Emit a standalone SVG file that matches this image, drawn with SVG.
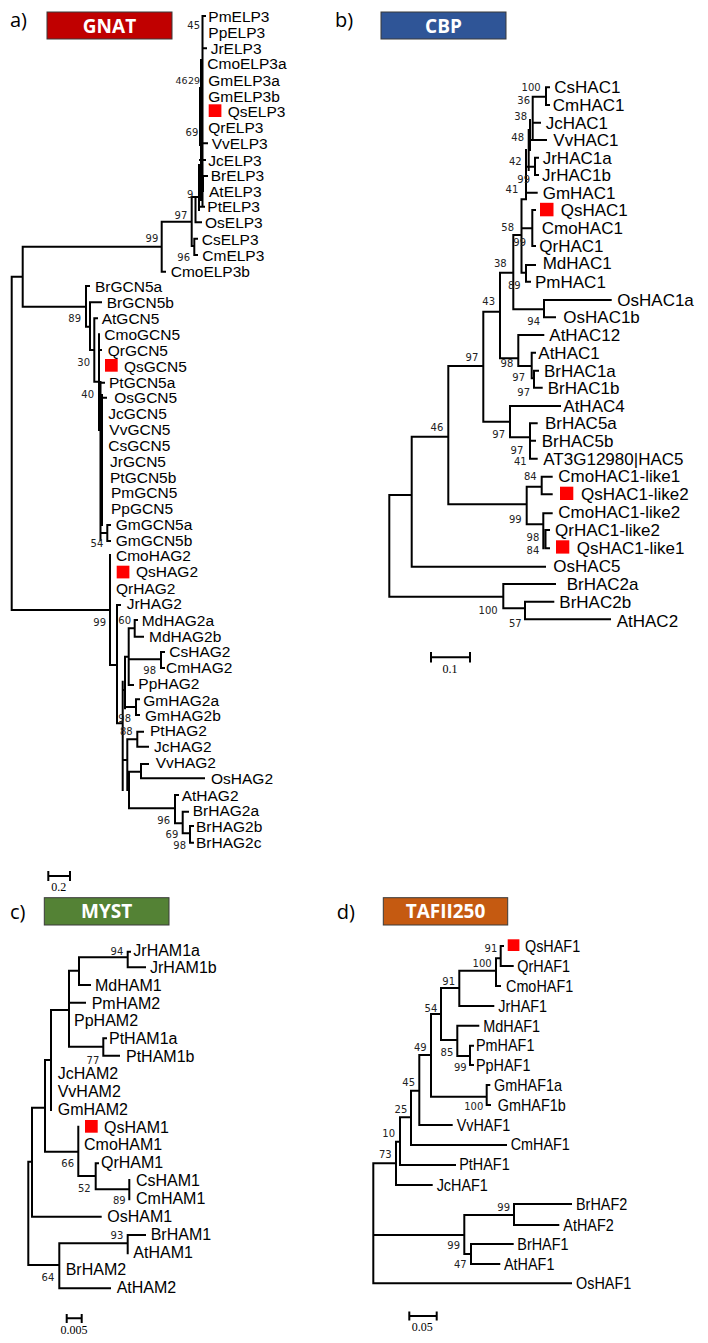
<svg xmlns="http://www.w3.org/2000/svg" width="708" height="1343" viewBox="0 0 708 1343">
<style>
.br{stroke:#000;stroke-width:2;fill:none;stroke-linecap:square}
.sb{stroke:#000;stroke-width:2;fill:none}
.la{font-family:"Liberation Sans",Arial,sans-serif;font-size:15.5px;fill:#000}
.lb{font-family:"Liberation Sans",Arial,sans-serif;font-size:17px;fill:#000}
.lc{font-family:"Liberation Sans",Arial,sans-serif;font-size:16px;fill:#000}
.bs{font-family:"DejaVu Sans",sans-serif;font-size:10px;fill:#222;text-anchor:end}
.sc{font-family:"Liberation Serif","Times New Roman",serif;font-size:12px;fill:#000;text-anchor:middle}
.pl{font-family:"Open Sans",sans-serif;font-size:20px;fill:#000}
.hd{font-family:"Open Sans",sans-serif;font-weight:bold;font-size:19px;fill:#fff;text-anchor:middle}
.hb{stroke:#3a3a3a;stroke-width:1}
.qs{fill:#ff0000}
</style>

<!-- Panel a -->
<g id="panel-a-header">
<text class="pl" x="10" y="27">a)</text>
<rect class="hb" x="47" y="12" width="125" height="27" fill="#C00000"/>
<text class="hd" x="109.5" y="32.5">GNAT</text>
</g>
<g id="panel-a-connectors">
<path class="br" d="M202.5,16V206 M202.5,16H205 M202.5,48.3H206 M200,88V145 M201,60V200 M200,143.3H207 M200,160H205 M199,165V210 M199,206.7H204 M203,176V191 M199,183H203 M203,176H207 M195.5,197V222.3 M195.5,222.3H201 M191.7,197V246 M191.7,197H199 M191.7,246H194.3 M194.3,238.7V255 M194.3,238.7H197 M194.3,255H197 M161.7,221.7V271.7 M161.7,221.7H191.7 M161.7,271.7H165 M22.7,246.7H161.7 M22.7,246.7V306.7 M22.7,306.7H86 M11.7,276.7V610 M11.7,276.7H22.7 M11.7,610H110"/>
<path class="br" d="M86,286V326.7 M86,286H89 M86,326.7H90 M90,302.3V350 M90,302.3H101 M90,350H94.3 M94.3,318.3V381.7 M94.3,318.3H97 M94.3,381.7H99 M99,334.3V430 M99,350H101 M100.5,382V540 M102,395V525 M100.5,382.7H104 M102,397.7H106 M102,533H107.3 M107.3,525V541 M107.3,525H110 M107.3,541H110"/>
<path class="br" d="M110,555V665 M110,665H117 M117,605V723.3 M117,605H120 M117,723.3H122.7 M122.7,681.7V790 M125,656.7V708.3 M122.7,690H125 M128.7,628.3V685 M125,656.7H128.7 M128.7,685H133 M128.7,628.3H134.7 M134.7,620V636.7 M134.7,620H137 M134.7,636.7H143 M128.7,659.3H161 M161,652V668 M161,652H164 M161,668H164 M125,707H136 M136,699.3V715 M136,699.3H139 M136,715H139 M127.3,739.3V790 M122.7,760H127.3 M127.3,739.3H137.3 M137.3,731.7V746.7 M137.3,731.7H143 M137.3,746.7H148 M129,771.7V808.3 M127.3,790H129 M129,771.7H141 M141,764V778.3 M141,764H148 M141,778.3H204 M129,808.3H175 M175,795V823.3 M175,795H178 M175,823.3H182.7 M182.7,811.7V833.3 M182.7,811.7H188 M182.7,833.3H190 M190,826V842.7 M190,826H193 M190,842.7H193"/>
<path class="sb" d="M48.3,876H70 M48.3,871V881 M70,871V881"/>
</g>
<g id="panel-a-bootstrap">
<text class="bs" x="200" y="28.8">45</text>
<text class="bs" x="187.6" y="83.8" style="font-size:9.5px">46</text>
<text class="bs" x="200" y="83.8" style="font-size:9.5px">29</text>
<text class="bs" x="198.3" y="135.5">69</text>
<text class="bs" x="193.3" y="198">9</text>
<text class="bs" x="187.3" y="218.8">97</text>
<text class="bs" x="158.3" y="242">99</text>
<text class="bs" x="190" y="260.5">96</text>
<text class="bs" x="81" y="322">89</text>
<text class="bs" x="90" y="365.5">30</text>
<text class="bs" x="94" y="397.8">40</text>
<text class="bs" x="103.3" y="547">54</text>
<text class="bs" x="106" y="625.5">99</text>
<text class="bs" x="131" y="623.8">60</text>
<text class="bs" x="156" y="673.8">98</text>
<text class="bs" x="131" y="722">98</text>
<text class="bs" x="132.7" y="734.5">88</text>
<text class="bs" x="170" y="823.8">96</text>
<text class="bs" x="178.3" y="837.8">69</text>
<text class="bs" x="186" y="848.8">98</text>
<text class="sc" x="58.7" y="891">0.2</text>
</g>
<g id="panel-a-leaves">
<text class="la" x="208.3" y="21.5">PmELP3</text>
<text class="la" x="208.3" y="37.8">PpELP3</text>
<text class="la" x="210.7" y="53.8">JrELP3</text>
<text class="la" x="207.3" y="68.8">CmoELP3a</text>
<text class="la" x="208.3" y="85.5">GmELP3a</text>
<text class="la" x="208.3" y="101.5">GmELP3b</text>
<rect class="qs" x="208.7" y="104.3" width="12.7" height="12.7"/>
<text class="la" x="227.7" y="117.2">QsELP3</text>
<text class="la" x="208.3" y="133.2">QrELP3</text>
<text class="la" x="211.7" y="148.8">VvELP3</text>
<text class="la" x="208.3" y="165.5">JcELP3</text>
<text class="la" x="210.7" y="180.5">BrELP3</text>
<text class="la" x="209" y="196.5">AtELP3</text>
<text class="la" x="207.3" y="212.2">PtELP3</text>
<text class="la" x="205" y="227.8">OsELP3</text>
<text class="la" x="201.7" y="244.5">CsELP3</text>
<text class="la" x="202.3" y="260.5">CmELP3</text>
<text class="la" x="170.7" y="277.2">CmoELP3b</text>
<text class="la" x="95" y="291.5">BrGCN5a</text>
<text class="la" x="106.7" y="307.8">BrGCN5b</text>
<text class="la" x="101.7" y="323.8">AtGCN5</text>
<text class="la" x="104.3" y="339.8">CmoGCN5</text>
<text class="la" x="107.7" y="355.5">QrGCN5</text>
<rect class="qs" x="105" y="359" width="12.7" height="12.7"/>
<text class="la" x="124" y="371.5">QsGCN5</text>
<text class="la" x="109" y="388.2">PtGCN5a</text>
<text class="la" x="114.3" y="403.2">OsGCN5</text>
<text class="la" x="108.3" y="418.8">JcGCN5</text>
<text class="la" x="109.3" y="434.8">VvGCN5</text>
<text class="la" x="108.3" y="450.5">CsGCN5</text>
<text class="la" x="110" y="466.5">JrGCN5</text>
<text class="la" x="110" y="483.2">PtGCN5b</text>
<text class="la" x="111" y="498.2">PmGCN5</text>
<text class="la" x="111" y="513.8">PpGCN5</text>
<text class="la" x="115.7" y="530">GmGCN5a</text>
<text class="la" x="115.7" y="545.5">GmGCN5b</text>
<text class="la" x="116" y="561">CmoHAG2</text>
<rect class="qs" x="116.7" y="565.7" width="12.7" height="12.7"/>
<text class="la" x="136" y="577.2">QsHAG2</text>
<text class="la" x="116" y="593.8">QrHAG2</text>
<text class="la" x="126.7" y="608.8">JrHAG2</text>
<text class="la" x="141.7" y="625.5">MdHAG2a</text>
<text class="la" x="149" y="641.5">MdHAG2b</text>
<text class="la" x="169.3" y="657.2">CsHAG2</text>
<text class="la" x="166" y="672.8">CmHAG2</text>
<text class="la" x="138.3" y="688.8">PpHAG2</text>
<text class="la" x="143.3" y="705.5">GmHAG2a</text>
<text class="la" x="145" y="720.5">GmHAG2b</text>
<text class="la" x="150" y="736.2">PtHAG2</text>
<text class="la" x="154" y="752.2">JcHAG2</text>
<text class="la" x="155.7" y="768.2">VvHAG2</text>
<text class="la" x="211" y="783.8">OsHAG2</text>
<text class="la" x="181.7" y="800.5">AtHAG2</text>
<text class="la" x="192.7" y="816.2">BrHAG2a</text>
<text class="la" x="196" y="831.5">BrHAG2b</text>
<text class="la" x="196" y="848.2">BrHAG2c</text>
</g>

<!-- Panel b -->
<g id="panel-b-header">
<text class="pl" x="335" y="27">b)</text>
<rect class="hb" x="381" y="12" width="125" height="27" fill="#2F5597"/>
<text class="hd" x="443.5" y="32.5">CBP</text>
</g>
<g id="panel-b-connectors">
<path class="br" d="M546,87.3V105 M546,87.3H549 M546,105H549 M532.7,96.7H546 M532.7,96.7V140 M532.7,122.7H540 M531.7,140H546 M530,120V150 M528.7,130V170 M535,157.7V175 M535,157.7H538 M535,175H538 M526.7,166.7H535 M526,150V199.3 M526,192.7H536.7 M521.5,199.3V272.7 M521.5,199.3H526 M521.5,228.3H532.3 M532.3,210V246 M532.3,210H535 M532.3,246H535 M521.5,272.7H526 M526,265V281.7 M526,265H535 M526,281.7H530 M513.3,235H521.5 M513.3,235V309.3 M513.3,309.3H544 M544,300V317.3 M544,300H610.7 M544,317.3H555 M500,272.7H513.3 M500,272.7V358.3 M500,358.3H518.3 M518.3,335V366 M518.3,335H543.3 M518.3,366H531.7 M531.7,352.7V378.3 M531.7,352.7H535 M531.7,378.3H534 M534,370.7V387.7 M534,370.7H538 M534,387.7H541.7 M483.3,311.7H500 M483.3,311.7V421.7 M483.3,421.7H510 M510,406V437.3 M510,406H560 M510,437.3H530 M530,423.3V458.7 M530,423.3H536.7 M530,440.7H535 M530,458.7H536.7 M448.3,366H483.3 M448.3,366V504.3 M448.3,504.3H526.7 M526.7,486.7V524.3 M526.7,486.7H541.7 M541.7,476.7V494.3 M541.7,476.7H551.7 M541.7,494.3H551.7 M526.7,524.3H543.3 M543.3,513.3V548.3 M543.3,513.3H551.7 M545.5,530V548.3 M545.5,530H549 M545.5,548.3H549 M411.7,436.7H448.3 M411.7,436.7V566.7 M411.7,566.7H545 M389.3,495V596.7 M389.3,495H411.7 M389.3,596.7H503.3 M503.3,584V608.3 M503.3,584H555 M503.3,608.3H525 M525,601.7V619.3 M525,601.7H553.3 M525,619.3H610"/>
<path class="sb" d="M431,657.3H470 M431,652V662.5 M470,652V662.5"/>
</g>
<g id="panel-b-bootstrap">
<text class="bs" x="540.7" y="90.5">100</text>
<text class="bs" x="530" y="103.8">36</text>
<text class="bs" x="527" y="119.8">38</text>
<text class="bs" x="524" y="140.5">48</text>
<text class="bs" x="521.7" y="164.8">42</text>
<text class="bs" x="530" y="182.8">99</text>
<text class="bs" x="518.3" y="193">41</text>
<text class="bs" x="514" y="230.5">58</text>
<text class="bs" x="526" y="246">99</text>
<text class="bs" x="506.7" y="266.5">38</text>
<text class="bs" x="520.7" y="288.8">89</text>
<text class="bs" x="495" y="304.8">43</text>
<text class="bs" x="540" y="324.5">94</text>
<text class="bs" x="478.3" y="361">97</text>
<text class="bs" x="513.3" y="366.5">98</text>
<text class="bs" x="525" y="380.5">97</text>
<text class="bs" x="530" y="396">97</text>
<text class="bs" x="443.3" y="430.5">46</text>
<text class="bs" x="505" y="437.8">97</text>
<text class="bs" x="523.3" y="453.8">97</text>
<text class="bs" x="526.7" y="464.8">41</text>
<text class="bs" x="536.7" y="479.8">84</text>
<text class="bs" x="521.7" y="523">99</text>
<text class="bs" x="539.3" y="541">98</text>
<text class="bs" x="539.3" y="553.8">84</text>
<text class="bs" x="497.7" y="613.8">100</text>
<text class="bs" x="521.7" y="627">57</text>
<text class="sc" x="450" y="672.5">0.1</text>
</g>
<g id="panel-b-leaves">
<text class="lb" x="554.3" y="93.3">CsHAC1</text>
<text class="lb" x="552.7" y="111">CmHAC1</text>
<text class="lb" x="545.7" y="128.7">JcHAC1</text>
<text class="lb" x="553.3" y="146">VvHAC1</text>
<text class="lb" x="542.7" y="163.7">JrHAC1a</text>
<text class="lb" x="542" y="181">JrHAC1b</text>
<text class="lb" x="542.7" y="198.7">GmHAC1</text>
<rect class="qs" x="540" y="202.8" width="13.5" height="13.5"/>
<text class="lb" x="560.7" y="216">QsHAC1</text>
<text class="lb" x="541.7" y="234.3">CmoHAC1</text>
<text class="lb" x="539.3" y="252">QrHAC1</text>
<text class="lb" x="542.7" y="269.3">MdHAC1</text>
<text class="lb" x="535" y="287.7">PmHAC1</text>
<text class="lb" x="617.3" y="306">OsHAC1a</text>
<text class="lb" x="563.3" y="323.3">OsHAC1b</text>
<text class="lb" x="549.3" y="341">AtHAC12</text>
<text class="lb" x="538.3" y="358.7">AtHAC1</text>
<text class="lb" x="544" y="376.7">BrHAC1a</text>
<text class="lb" x="547.7" y="393.7">BrHAC1b</text>
<text class="lb" x="563.3" y="412">AtHAC4</text>
<text class="lb" x="545" y="429.3">BrHAC5a</text>
<text class="lb" x="541.7" y="446.7">BrHAC5b</text>
<text class="lb" x="543.3" y="464.7">AT3G12980|HAC5</text>
<text class="lb" x="558.3" y="482">CmoHAC1-like1</text>
<rect class="qs" x="560" y="486.7" width="13.3" height="13.3"/>
<text class="lb" x="581" y="500">QsHAC1-like2</text>
<text class="lb" x="558.3" y="518.3">CmoHAC1-like2</text>
<text class="lb" x="555" y="536">QrHAC1-like2</text>
<rect class="qs" x="556" y="540.3" width="13.3" height="13.3"/>
<text class="lb" x="576.7" y="553.7">QsHAC1-like1</text>
<text class="lb" x="553.3" y="572">OsHAC5</text>
<text class="lb" x="566.7" y="590.3">BrHAC2a</text>
<text class="lb" x="559.3" y="607.7">BrHAC2b</text>
<text class="lb" x="616.7" y="626.7">AtHAC2</text>
</g>

<!-- Panel c -->
<g id="panel-c-header">
<text class="pl" x="10" y="919">c)</text>
<rect class="hb" x="44.3" y="897.7" width="124.7" height="27.3" fill="#548235"/>
<text class="hd" x="106.7" y="918">MYST</text>
</g>
<g id="panel-c-connectors">
<path class="br" d="M127.7,951.7V967.3 M127.7,951.7H130 M127.7,967.3H145 M79,957.3H127.7 M79,957.3V985 M79,985H90 M69,970.7V1046.7 M69,970.7H79 M69,1002.7H85 M69,1046.7H103.3 M103.3,1038.3V1055.7 M103.3,1038.3H106 M103.3,1055.7H119 M51,1010V1110 M51,1010H69 M45,1060V1151.7 M45,1060H51 M45,1151.7H78.3 M78.3,1126.7V1176 M78.3,1176H95.7 M95.7,1163.3V1189.3 M95.7,1163.3H98 M95.7,1189.3H129.3 M129.3,1180V1199.3 M32,1107.7V1216.7 M32,1107.7H45 M32,1216.7H100.7 M28.3,1161.7V1265 M28.3,1161.7H32 M28.3,1265H59.3 M59.3,1243.3V1288.3 M59.3,1243.3H127.7 M59.3,1288.3H110 M127.7,1235V1253.3 M127.7,1235H145"/>
<path class="sb" d="M66.7,1318.3H81.7 M66.7,1314V1323 M81.7,1314V1323"/>
</g>
<g id="panel-c-bootstrap">
<text class="bs" x="123.3" y="954.8">94</text>
<text class="bs" x="99.3" y="1063.8">77</text>
<text class="bs" x="74" y="1167">66</text>
<text class="bs" x="90.7" y="1192">52</text>
<text class="bs" x="125.7" y="1203.8">89</text>
<text class="bs" x="123.3" y="1238.8">93</text>
<text class="bs" x="54.3" y="1280.5">64</text>
<text class="sc" x="74" y="1333.5">0.005</text>
</g>
<g id="panel-c-leaves">
<text class="lc" x="133.3" y="955.8">JrHAM1a</text>
<text class="lc" x="150" y="973.1">JrHAM1b</text>
<text class="lc" x="95" y="990.8">MdHAM1</text>
<text class="lc" x="91.7" y="1008.5">PmHAM2</text>
<text class="lc" x="74" y="1025.8">PpHAM2</text>
<text class="lc" x="109" y="1043.5">PtHAM1a</text>
<text class="lc" x="126" y="1061.5">PtHAM1b</text>
<text class="lc" x="57.7" y="1078.5">JcHAM2</text>
<text class="lc" x="57.7" y="1096.5">VvHAM2</text>
<text class="lc" x="57.7" y="1115.1">GmHAM2</text>
<rect class="qs" x="85" y="1120" width="12.7" height="12.7"/>
<text class="lc" x="104" y="1132.5">QsHAM1</text>
<text class="lc" x="84" y="1150.1">CmoHAM1</text>
<text class="lc" x="101" y="1168.1">QrHAM1</text>
<text class="lc" x="136" y="1185.8">CsHAM1</text>
<text class="lc" x="136" y="1204.1">CmHAM1</text>
<text class="lc" x="107.3" y="1221.8">OsHAM1</text>
<text class="lc" x="150.7" y="1239.8">BrHAM1</text>
<text class="lc" x="133.3" y="1257.5">AtHAM1</text>
<text class="lc" x="65.7" y="1275.1">BrHAM2</text>
<text class="lc" x="116.7" y="1293.1">AtHAM2</text>
</g>

<!-- Panel d -->
<g id="panel-d-header">
<text class="pl" x="336.7" y="919">d)</text>
<rect class="hb" x="383.3" y="897.7" width="124.4" height="27.3" fill="#C55A11"/>
<text class="hd" x="445.5" y="918">TAFII250</text>
</g>
<g id="panel-d-connectors">
<path class="br" d="M500.7,946V966 M500.7,946H503 M500.7,966H512.7 M496,958.3V986 M496,958.3H500.7 M496,986H500 M459.3,970.7V1006 M459.3,970.7H496 M459.3,1006H493.3 M441,988V1040 M441,988H459.3 M441,1040H457.3 M457.3,1025.7V1056 M457.3,1025.7H478.3 M457.3,1056H470 M470,1045.7V1065 M470,1045.7H473 M470,1065H473 M431,1014H441 M431,1014V1096.7 M431,1096.7H486.7 M486.7,1085V1105 M486.7,1085H489.3 M486.7,1105H490 M419.3,1055H431 M419.3,1055V1125 M419.3,1125H451.7 M411,1090.7H419.3 M411,1090.7V1145 M411,1145H506 M400,1117.3H411 M400,1117.3V1165 M400,1165H455 M396,1141.7H400 M396,1141.7V1185 M396,1185H431.7 M373.3,1163.3H396 M373.3,1163.3V1283.3 M373.3,1235H464.3 M373.3,1283.3H571 M464.3,1215V1254 M464.3,1215H514 M464.3,1254H471 M514,1204V1225 M514,1204H571 M514,1225H558.3 M471,1244V1264 M471,1244H512.7 M471,1264H499.3"/>
<path class="sb" d="M409.3,1316H436.7 M409.3,1311.5V1320.5 M436.7,1311.5V1320.5"/>
</g>
<g id="panel-d-bootstrap">
<text class="bs" x="497.3" y="952">91</text>
<text class="bs" x="491.7" y="967">100</text>
<text class="bs" x="455" y="984.5">91</text>
<text class="bs" x="437.3" y="1011.5">54</text>
<text class="bs" x="426.7" y="1050.5">49</text>
<text class="bs" x="453.3" y="1055.5">85</text>
<text class="bs" x="466.7" y="1070.5">99</text>
<text class="bs" x="415" y="1085.5">45</text>
<text class="bs" x="483.3" y="1109.5">100</text>
<text class="bs" x="407.3" y="1113">25</text>
<text class="bs" x="395" y="1136.5">10</text>
<text class="bs" x="391.7" y="1158">73</text>
<text class="bs" x="510" y="1210.5">99</text>
<text class="bs" x="460" y="1248.8">99</text>
<text class="bs" x="466.7" y="1268">47</text>
<text class="sc" x="422.3" y="1331">0.05</text>
</g>
<g id="panel-d-leaves">
<rect class="qs" x="507.7" y="939.3" width="11.7" height="11.7"/>
<g transform="scale(0.9 1)">
<text class="lc" x="583.3" y="951.8">QsHAF1</text>
<text class="lc" x="574.8" y="971.8">QrHAF1</text>
<text class="lc" x="562.2" y="991.8">CmoHAF1</text>
<text class="lc" x="553.7" y="1011.8">JrHAF1</text>
<text class="lc" x="537" y="1031.5">MdHAF1</text>
<text class="lc" x="528.9" y="1051.5">PmHAF1</text>
<text class="lc" x="528.9" y="1070.8">PpHAF1</text>
<text class="lc" x="548.9" y="1090.8">GmHAF1a</text>
<text class="lc" x="553" y="1110.8">GmHAF1b</text>
<text class="lc" x="507.4" y="1130.8">VvHAF1</text>
<text class="lc" x="567.4" y="1150.1">CmHAF1</text>
<text class="lc" x="510.3" y="1169.8">PtHAF1</text>
<text class="lc" x="485.2" y="1190.8">JcHAF1</text>
<text class="lc" x="640" y="1209.8">BrHAF2</text>
<text class="lc" x="625.9" y="1230.8">AtHAF2</text>
<text class="lc" x="574.8" y="1249.8">BrHAF1</text>
<text class="lc" x="560" y="1269.8">AtHAF1</text>
<text class="lc" x="640" y="1289.1">OsHAF1</text>
</g>
</g>
</svg>
